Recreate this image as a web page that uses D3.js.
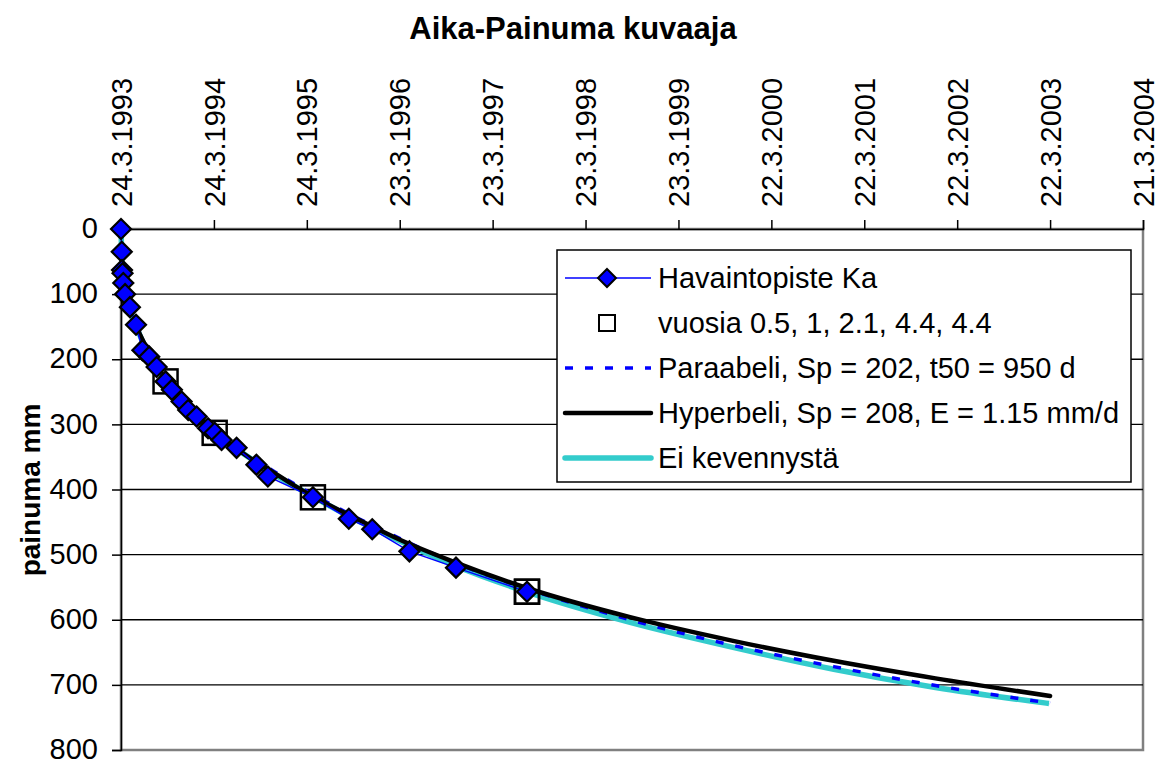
<!DOCTYPE html>
<html>
<head>
<meta charset="utf-8">
<script src="https://cdn.jsdelivr.net/npm/d3@7"></script>
<style>
  html, body { margin: 0; padding: 0; background: #fff; }
  svg { display: block; font-family: "Liberation Sans", Arial, sans-serif; }
</style>
</head>
<body>
<svg id="chart" width="1160" height="762"></svg>
<script>
// ---- data ----
const chartTitle = "Aika-Painuma kuvaaja";
const yAxisTitle = "painuma mm";
const xTickDays = [0, 365, 730, 1095, 1460, 1825, 2190, 2555, 2920, 3285, 3650, 4015];
const xTickLabels = ["24.3.1993", "24.3.1994", "24.3.1995", "23.3.1996", "23.3.1997", "23.3.1998",
                     "23.3.1999", "22.3.2000", "22.3.2001", "22.3.2002", "22.3.2003", "21.3.2004"];
const yTicks = [0, 100, 200, 300, 400, 500, 600, 700, 800];

// Havaintopiste Ka (days from 24.3.1993, settlement mm)
const obsDays   = [0, 3, 4, 6, 9, 16, 35, 59, 84, 111, 140, 175, 200, 238, 264, 297, 342, 368, 395, 454, 532, 577, 754, 895, 987, 1133, 1316, 1595];
const obsValues = [0, 35, 63, 68, 83, 100, 120, 147, 186, 196, 212, 234, 247, 265, 278, 288, 306, 313, 324, 336, 362, 380, 412, 445, 461, 495, 520, 557];

// vuosia 0.5, 1, 2.1, 4.4, 4.4
const yearDays   = [175, 368, 754, 1595, 1595];
const yearValues = [234, 313, 412, 557, 557];

// Paraabeli, Sp = 202, t50 = 950 d
const parDays   = [60, 100, 150, 200, 300, 400, 500, 600, 750, 900, 1100, 1300, 1600, 2000, 2400, 2800, 3200, 3650];
const parValues = [148, 180, 214, 243, 285, 318, 347, 372, 407, 438, 476, 511, 553, 600, 639, 672, 701, 728];

// Hyperbeli, Sp = 208, E = 1.15 mm/d
const hypDays   = [60, 100, 150, 200, 300, 400, 500, 600, 750, 900, 1100, 1300, 1600, 2000, 2400, 2800, 3200, 3650];
const hypValues = [150, 182, 216, 245, 290, 322, 350, 374, 410, 440, 478, 510, 552, 596, 632, 663, 690, 717];

// Ei kevennystä
const eiDays   = [0, 5, 15, 30, 60, 100, 150, 200, 300, 400, 500, 600, 750, 900, 1100, 1300, 1600, 2000, 2400, 2800, 3200, 3635];
const eiValues = [0, 60, 95, 118, 150, 185, 220, 248, 290, 322, 350, 376, 410, 442, 480, 515, 558, 604, 642, 676, 704, 728];

const legendItems = ["Havaintopiste Ka", "vuosia 0.5, 1, 2.1, 4.4, 4.4", "Paraabeli, Sp = 202, t50 = 950 d",
                     "Hyperbeli, Sp = 208, E = 1.15 mm/d", "Ei kevennystä"];

// ---- layout ----
const svg = d3.select("#chart");
const pLeft = 121, pRight = 1143, pTop = 229, pBottom = 750;
const x = d3.scaleLinear().domain([0, 4015]).range([pLeft, pRight]);
const y = d3.scaleLinear().domain([0, 800]).range([pTop, pBottom]);
const FS = 29;

// title
svg.append("text").attr("x", 573).attr("y", 39).attr("text-anchor", "middle")
  .attr("font-weight", "bold").attr("font-size", 31).text(chartTitle);

// y axis title
svg.append("text").attr("transform", "translate(40,490) rotate(-90)")
  .attr("text-anchor", "middle").attr("font-weight", "bold").attr("font-size", 28).text(yAxisTitle);

// plot border
svg.append("rect").attr("x", pLeft).attr("y", pTop).attr("width", pRight - pLeft).attr("height", pBottom - pTop)
  .attr("fill", "none").attr("stroke", "#808080").attr("stroke-width", 2.5);

// gridlines
svg.append("g").selectAll("line").data(yTicks.filter(d => d > 0 && d < 800)).join("line")
  .attr("x1", pLeft).attr("x2", pRight).attr("y1", d => y(d)).attr("y2", d => y(d))
  .attr("stroke", "#000").attr("stroke-width", 1.3);

// y axis
const yAxis = svg.append("g").attr("transform", `translate(${pLeft},0)`)
  .call(d3.axisLeft(y).tickValues(yTicks).tickSize(9).tickPadding(14).tickFormat(d3.format("d")));
yAxis.select(".domain").attr("stroke", "#000").attr("stroke-width", 1.5);
yAxis.selectAll(".tick line").attr("stroke", "#000").attr("stroke-width", 1.5);
yAxis.selectAll(".tick text").attr("font-size", FS).attr("font-family", "Liberation Sans, Arial, sans-serif")
  .attr("fill", "#000").attr("dy", "0.3em");

// x axis (top)
const xAxis = svg.append("g").attr("transform", `translate(0,${pTop})`)
  .call(d3.axisTop(x).tickValues(xTickDays).tickSize(9).tickFormat((d, i) => xTickLabels[i]));
xAxis.select(".domain").attr("stroke", "#000").attr("stroke-width", 1.5);
xAxis.selectAll(".tick line").attr("stroke", "#000").attr("stroke-width", 1.5);
xAxis.selectAll(".tick text")
  .attr("font-size", FS).attr("font-family", "Liberation Sans, Arial, sans-serif").attr("fill", "#000")
  .attr("text-anchor", "start").attr("x", 0).attr("y", 0)
  .attr("transform", "translate(0,-22) rotate(-90)").attr("dy", "0.35em");

// curves
const mk = (days, vals) => days.map((d, i) => [d, vals[i]]);
const smooth = d3.line().x(d => x(d[0])).y(d => y(d[1])).curve(d3.curveMonotoneX);
const straight = d3.line().x(d => x(d[0])).y(d => y(d[1]));

svg.append("path").attr("d", smooth(mk(eiDays, eiValues))).attr("fill", "none")
  .attr("stroke", "#33CCCC").attr("stroke-width", 5.5).attr("stroke-linecap", "square");
svg.append("path").attr("d", smooth(mk(parDays, parValues))).attr("fill", "none")
  .attr("stroke", "#0000FF").attr("stroke-width", 3.5).attr("stroke-dasharray", "8,12");
svg.append("path").attr("d", smooth(mk(hypDays, hypValues))).attr("fill", "none")
  .attr("stroke", "#000").attr("stroke-width", 4.5).attr("stroke-linecap", "round");
svg.append("path").attr("d", straight(mk(obsDays, obsValues))).attr("fill", "none")
  .attr("stroke", "#0000FF").attr("stroke-width", 1.5);

// markers
const diamond = r => `M0,${-r}L${r},0L0,${r}L${-r},0Z`;
svg.append("g").selectAll("rect").data(mk(yearDays, yearValues)).join("rect")
  .attr("x", d => x(d[0]) - 12).attr("y", d => y(d[1]) - 12).attr("width", 24).attr("height", 24)
  .attr("fill", "none").attr("stroke", "#000").attr("stroke-width", 2.5);
svg.append("g").selectAll("path").data(mk(obsDays, obsValues)).join("path")
  .attr("transform", d => `translate(${x(d[0])},${y(d[1])})`).attr("d", diamond(10))
  .attr("fill", "#0000FF").attr("stroke", "#000").attr("stroke-width", 2.2);

// legend
const lg = svg.append("g");
lg.append("rect").attr("x", 557).attr("y", 250).attr("width", 574).attr("height", 232)
  .attr("fill", "#fff").attr("stroke", "#000").attr("stroke-width", 1.5);
const rowY = i => 278 + i * 45;
legendItems.forEach((t, i) => {
  lg.append("text").attr("x", 658).attr("y", rowY(i)).attr("dy", "0.35em")
    .attr("font-size", FS).text(t);
});
lg.append("line").attr("x1", 565).attr("x2", 651).attr("y1", rowY(0)).attr("y2", rowY(0))
  .attr("stroke", "#0000FF").attr("stroke-width", 1.5);
lg.append("path").attr("transform", `translate(607,${rowY(0)})`).attr("d", diamond(9))
  .attr("fill", "#0000FF").attr("stroke", "#000").attr("stroke-width", 2);
lg.append("rect").attr("x", 599).attr("y", rowY(1) - 8).attr("width", 16).attr("height", 16)
  .attr("fill", "none").attr("stroke", "#000").attr("stroke-width", 2);
lg.append("line").attr("x1", 565).attr("x2", 651).attr("y1", rowY(2)).attr("y2", rowY(2))
  .attr("stroke", "#0000FF").attr("stroke-width", 3.5).attr("stroke-dasharray", "8,12");
lg.append("line").attr("x1", 565).attr("x2", 651).attr("y1", rowY(3)).attr("y2", rowY(3))
  .attr("stroke", "#000").attr("stroke-width", 4.5).attr("stroke-linecap", "round");
lg.append("line").attr("x1", 565).attr("x2", 651).attr("y1", rowY(4)).attr("y2", rowY(4))
  .attr("stroke", "#33CCCC").attr("stroke-width", 5.5).attr("stroke-linecap", "round");
</script>
</body>
</html>
